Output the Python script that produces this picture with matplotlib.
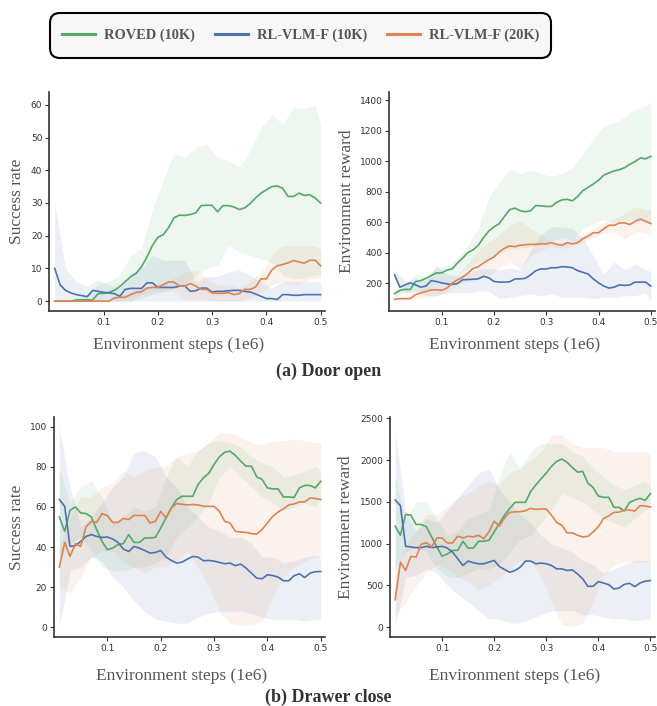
import numpy as np
import matplotlib
matplotlib.use('Agg')
import matplotlib.pyplot as plt
from matplotlib.patches import FancyBboxPatch

# x axis: environment steps (1e6)
steps = np.round(np.arange(1, 51) * 0.01, 2)
band_steps = np.append(np.round(np.arange(1, 50, 2) * 0.01, 2), 0.50)

labels = ['ROVED (10K)', 'RL-VLM-F (10K)', 'RL-VLM-F (20K)']
colors = ['#55a868', '#4c72b0', '#dd8452']

# ---- (a) Door open, success rate
door_sr_roved = [0, 0, 0, 0, 0.4, 0.4, 0.4, 0.4, 2.3, 2.4, 2.7, 3.3, 4.5, 6, 7.5, 8.5, 10.5, 13.5, 17, 19.5,
                 20.3, 22.5, 25.5, 26.3, 26.2, 26.5, 27, 29.2, 29.3, 29.3, 27.3, 29.2, 29.2, 28.8, 28, 28.5, 29.8, 31.5, 33, 34,
                 35, 35.2, 34.5, 32, 32, 33, 32.3, 32.5, 31.5, 30]
door_sr_vlm10 = [10, 5, 3.3, 2.5, 2, 1.7, 1.4, 3.3, 3, 2.7, 2.5, 2.3, 1.5, 3.6, 3.9, 3.9, 3.9, 5.6, 5.6, 4.2,
                 4.2, 4.2, 4.2, 4.6, 4.6, 3, 3.2, 4, 4, 2.8, 3, 3, 3.2, 3.3, 3.3, 3, 2.8, 2.2, 1.5, 0.8,
                 0.8, 0.5, 2, 2, 1.8, 1.8, 2, 2, 2, 2]
door_sr_vlm20 = [0, 0, 0, 0, 0, 0, 0, 0, 0, 0, 0, 1, 1.2, 1.2, 2, 2.7, 2.9, 4, 4.2, 4.2,
                 5, 5.9, 5.8, 4.6, 4.6, 5.4, 4.6, 3.6, 3.6, 2.5, 2.4, 2.4, 2.6, 2, 2.3, 3.6, 3.6, 4.3, 6.8, 6.8,
                 9.5, 10.8, 11.2, 11.7, 12.4, 12, 11.6, 12.5, 12.5, 10.8]
door_sr_roved_lo = [0, 0, 0, 0, 0, 0, 0, 0, 1, 2, 3, 4, 5, 8, 10, 11, 17, 15, 14, 13, 12, 8, 7, 7, 8, 8]
door_sr_roved_hi = [0, 0, 1, 2, 5, 6, 8, 14, 16, 28, 37, 45, 44, 47, 48, 44, 43, 41, 46, 53, 57, 54, 59, 59, 60, 54]
door_sr_vlm10_lo = [0] * 26
door_sr_vlm10_hi = [30, 10, 6, 4.5, 6.5, 5, 4, 8.5, 10, 14, 12.5, 12.5, 12.5, 6, 7.5, 7.5, 9, 9.5, 8, 6, 4, 6, 6, 6, 6, 6]
door_sr_vlm20_lo = [0, 0, 0, 0, 0, 0, 0, 0.5, 2, 3, 3, 3, 0.5, 0.5, 0.5, 0, 0, 0, 1, 3, 5, 6, 5, 6, 7, 7]
door_sr_vlm20_hi = [0, 0, 0, 0, 0, 0, 2, 2.5, 3.5, 5, 6, 7, 9, 9.5, 7, 5, 5, 4, 6, 9, 14, 17, 17, 17, 17, 15.5]

# ---- (a) Door open, environment reward
door_rw_roved = [133, 155, 161, 161, 213, 219, 234, 252, 269, 269, 288, 295, 334, 366, 402, 420, 450, 500, 543, 570,
                 592, 639, 683, 693, 676, 670, 676, 710, 708, 704, 704, 732, 747, 751, 741, 769, 808, 829, 851, 876,
                 909, 924, 937, 945, 958, 980, 999, 1021, 1016, 1032]
door_rw_vlm10 = [256, 176, 191, 204, 191, 176, 183, 219, 213, 204, 198, 194, 200, 224, 226, 228, 230, 247, 237, 213,
                 209, 209, 211, 230, 230, 234, 256, 284, 295, 295, 303, 303, 310, 308, 303, 284, 273, 262, 230, 204,
                 183, 170, 176, 191, 187, 191, 209, 209, 209, 183]
door_rw_vlm20 = [97, 101, 101, 101, 127, 138, 148, 157, 159, 155, 170, 202, 224, 241, 267, 299, 310, 334, 355, 374,
                 407, 430, 446, 441, 450, 454, 456, 456, 459, 459, 467, 456, 450, 467, 459, 467, 493, 510, 532, 532,
                 558, 581, 581, 596, 596, 586, 607, 622, 607, 592]
door_rw_roved_lo = [110, 140, 150, 160, 180, 200, 250, 300, 340, 360, 400, 420, 430, 440, 460, 480, 500, 480, 560, 590,
                    620, 600, 610, 620, 600, 600]
door_rw_roved_hi = [160, 190, 260, 250, 300, 320, 360, 450, 560, 760, 860, 950, 920, 940, 920, 900, 920, 960, 1050, 1150,
                    1230, 1250, 1290, 1340, 1360, 1390]
door_rw_vlm10_lo = [220, 140, 150, 120, 120, 140, 140, 140, 150, 150, 100, 110, 120, 130, 120, 130, 110, 110, 110, 100,
                    110, 110, 120, 120, 140, 85]
door_rw_vlm10_hi = [290, 220, 230, 220, 320, 260, 250, 270, 290, 300, 290, 300, 290, 420, 520, 570, 570, 560, 500, 380,
                    260, 340, 290, 330, 290, 280]
door_rw_vlm20_lo = [90, 90, 100, 110, 120, 140, 190, 210, 230, 250, 300, 340, 300, 380, 420, 440, 430, 440, 470, 500,
                    530, 540, 490, 540, 530, 510]
door_rw_vlm20_hi = [100, 105, 150, 170, 180, 200, 260, 330, 420, 470, 520, 580, 610, 560, 520, 470, 470, 480, 520, 560,
                    600, 620, 660, 700, 680, 680]

# ---- (b) Drawer close, success rate
drawer_sr_roved = [55, 47.8, 58.3, 60, 57, 56.7, 55, 48.7, 42.8, 38.7, 39.5, 41.2, 41.7, 46.2, 42.3, 42.3, 44.5, 44.5, 44.8, 49.5,
                   54.5, 59.5, 63.7, 65.3, 65.3, 65.3, 71.2, 74.5, 76.7, 81.2, 85, 87.3, 87.8, 85.7, 82.8, 80.3, 80.3, 75, 73.7, 69.5,
                   69, 69, 65, 65, 64.7, 69.5, 70.7, 70.7, 69.5, 72.8]
drawer_sr_vlm10 = [63.7, 60.3, 40.3, 40.7, 42.8, 45.3, 46.2, 45.3, 44.8, 45, 44, 42.3, 39, 37.8, 40.3, 39.5, 38.3, 37, 37.3, 38.3,
                   35, 33.3, 32, 32.5, 34, 35.3, 35, 33.2, 33.3, 33, 32.3, 31.7, 32, 30.7, 31.5, 29.5, 27, 24.5, 24.2, 26.2,
                   25.8, 25, 23.2, 23.2, 25.7, 26.7, 24.8, 27, 27.7, 27.8]
drawer_sr_vlm20 = [30, 42.3, 35.3, 41.7, 40.3, 50, 52.8, 52.3, 56.7, 55.7, 52.3, 52.3, 54.3, 53.7, 55.8, 55.7, 55.8, 52, 52.8, 57.8,
                   54.5, 59.5, 61.7, 61.3, 61, 61.2, 61, 60.3, 60.3, 60.3, 57.8, 52.8, 52, 47.8, 47.5, 47.3, 46.7, 46.5, 48.7, 52,
                   55.3, 57.5, 59, 61, 61.5, 62.5, 62.5, 64.5, 64.2, 63.7]
drawer_sr_roved_lo = [35, 42, 45, 38, 30, 28, 28, 30, 30, 32, 35, 45, 50, 55, 62, 75, 80, 75, 70, 65,
                      62, 58, 60, 62, 60, 65]
drawer_sr_roved_hi = [80, 62, 70, 73, 65, 52, 55, 60, 58, 60, 75, 85, 80, 88, 92, 93, 92, 90, 85, 82,
                      80, 75, 76, 78, 80, 78]
drawer_sr_vlm10_lo = [0, 28, 30, 35, 33, 25, 20, 13, 8, 4, 3, 2, 2, 5, 7, 8, 8, 8, 7, 5,
                      4, 4, 4, 3, 4, 4]
drawer_sr_vlm10_hi = [100, 70, 50, 55, 62, 70, 75, 87, 88, 85, 75, 70, 60, 55, 50, 48, 45, 45, 42, 35,
                      35, 32, 33, 35, 36, 35]
drawer_sr_vlm20_lo = [20, 17, 25, 35, 38, 38, 32, 30, 27, 30, 30, 33, 38, 30, 20, 8, 2, 1, 1, 3,
                      15, 25, 30, 33, 35, 35]
drawer_sr_vlm20_hi = [40, 55, 65, 65, 70, 72, 78, 75, 78, 80, 80, 85, 87, 88, 92, 97, 97, 95, 92, 91,
                      93, 93, 94, 93, 92, 92]

# ---- (b) Drawer close, environment reward
drawer_rw_roved = [1210, 1101, 1350, 1342, 1230, 1230, 1202, 1081, 960, 852, 876, 920, 920, 1029, 948, 948, 1029, 1029, 1041, 1141,
                   1242, 1342, 1423, 1495, 1495, 1495, 1624, 1704, 1776, 1845, 1925, 1985, 2013, 1973, 1913, 1857, 1865, 1724, 1672, 1571,
                   1555, 1555, 1435, 1435, 1391, 1495, 1523, 1543, 1519, 1600]
drawer_rw_vlm10 = [1523, 1455, 969, 961, 953, 953, 969, 953, 961, 969, 948, 900, 820, 740, 792, 772, 760, 760, 780, 800,
                   727, 691, 659, 679, 719, 792, 792, 760, 768, 760, 740, 699, 699, 679, 687, 639, 579, 490, 490, 547,
                   530, 510, 458, 470, 514, 526, 486, 530, 551, 559]
drawer_rw_vlm20 = [330, 780, 679, 848, 840, 993, 1013, 961, 1069, 1069, 1009, 1009, 1089, 1069, 1089, 1081, 1101, 1061, 1141, 1270,
                   1210, 1310, 1375, 1383, 1383, 1395, 1423, 1411, 1415, 1415, 1342, 1254, 1222, 1129, 1129, 1101, 1081, 1089, 1141, 1202,
                   1302, 1334, 1375, 1379, 1403, 1403, 1391, 1455, 1451, 1439]
drawer_rw_roved_lo = [700, 900, 950, 900, 700, 600, 600, 650, 700, 700, 750, 900, 1050, 1100, 1250, 1400, 1600, 1550, 1500, 1400,
                      1300, 1250, 1200, 1300, 1400, 1450]
drawer_rw_roved_hi = [1800, 1300, 1500, 1500, 1300, 1100, 1150, 1300, 1350, 1400, 1800, 2100, 1900, 2100, 2200, 2200, 2200, 2100, 2050, 1900,
                      1800, 1700, 1650, 1700, 1750, 1700]
drawer_rw_vlm10_lo = [0, 600, 620, 700, 650, 500, 400, 300, 200, 100, 100, 50, 50, 100, 150, 200, 200, 200, 150, 150,
                      120, 100, 100, 80, 100, 100]
drawer_rw_vlm10_hi = [2350, 1400, 1150, 1300, 1250, 1400, 1550, 1700, 1850, 1900, 1650, 1500, 1350, 1250, 1100, 1000, 950, 900, 800, 750,
                      650, 700, 750, 800, 800, 790]
drawer_rw_vlm20_lo = [150, 300, 500, 650, 750, 700, 600, 550, 450, 500, 600, 700, 800, 800, 600, 300, 30, 10, 50, 300,
                      600, 750, 780, 780, 780, 780]
drawer_rw_vlm20_hi = [600, 1000, 1150, 1350, 1350, 1450, 1550, 1600, 1700, 1750, 1700, 1850, 1900, 2000, 2100, 2300, 2300, 2200, 2150, 2150,
                      2150, 2100, 2100, 2100, 2100, 2080]

panels = [
    dict(pos=[0.075, 0.5595, 0.4196, 0.3106], ylabel='Success rate', ylim=(-3, 64), yticks=np.arange(0, 61, 10),
         lab_x=-0.088, xlab_y=-0.118,
         means=[door_sr_roved, door_sr_vlm10, door_sr_vlm20],
         lo=[door_sr_roved_lo, door_sr_vlm10_lo, door_sr_vlm20_lo],
         hi=[door_sr_roved_hi, door_sr_vlm10_hi, door_sr_vlm20_hi]),
    dict(pos=[0.5927, 0.5595, 0.4043, 0.3106], ylabel='Environment reward', ylim=(20, 1455), yticks=np.arange(200, 1401, 200),
         lab_x=-0.13, xlab_y=-0.118,
         means=[door_rw_roved, door_rw_vlm10, door_rw_vlm20],
         lo=[door_rw_roved_lo, door_rw_vlm10_lo, door_rw_vlm20_lo],
         hi=[door_rw_roved_hi, door_rw_vlm10_hi, door_rw_vlm20_hi]),
    dict(pos=[0.0822, 0.0973, 0.4125, 0.3125], ylabel='Success rate', ylim=(-5, 105), yticks=np.arange(0, 101, 20),
         lab_x=-0.107, xlab_y=-0.14,
         means=[drawer_sr_roved, drawer_sr_vlm10, drawer_sr_vlm20],
         lo=[drawer_sr_roved_lo, drawer_sr_vlm10_lo, drawer_sr_vlm20_lo],
         hi=[drawer_sr_roved_hi, drawer_sr_vlm10_hi, drawer_sr_vlm20_hi]),
    dict(pos=[0.5936, 0.0973, 0.4027, 0.3125], ylabel='Environment reward', ylim=(-120, 2520), yticks=np.arange(0, 2501, 500),
         lab_x=-0.136, xlab_y=-0.14,
         means=[drawer_rw_roved, drawer_rw_vlm10, drawer_rw_vlm20],
         lo=[drawer_rw_roved_lo, drawer_rw_vlm10_lo, drawer_rw_vlm20_lo],
         hi=[drawer_rw_roved_hi, drawer_rw_vlm10_hi, drawer_rw_vlm20_hi]),
]

serif = ['Liberation Serif', 'DejaVu Serif']
W, H = 657, 706

fig = plt.figure(figsize=(6.57, 7.06), dpi=100)

for p in panels:
    ax = fig.add_axes(p['pos'])
    for k in range(3):
        ax.fill_between(band_steps, p['lo'][k], p['hi'][k], color=colors[k], alpha=0.1, linewidth=0)
    for k in range(3):
        ax.plot(steps, p['means'][k], color=colors[k], linewidth=1.2, label=labels[k])
    ax.set_xlim(0.0, 0.508)
    ax.set_ylim(*p['ylim'])
    ax.set_xticks([0.1, 0.2, 0.3, 0.4, 0.5])
    ax.set_xticklabels(['0.1', '0.2', '0.3', '0.4', '0.5'])
    ax.set_yticks(p['yticks'])
    ax.tick_params(labelsize=6.5, colors='#333333', length=3, width=0.8, pad=2)
    for s in ['top', 'right']:
        ax.spines[s].set_visible(False)
    for s in ['left', 'bottom']:
        ax.spines[s].set_color('#333333')
        ax.spines[s].set_linewidth(1.2)
    ax.set_ylabel(p['ylabel'], family=serif, fontsize=12.5, color='#555555')
    ax.yaxis.set_label_coords(p['lab_x'], 0.5)
    ax.set_xlabel('Environment steps (1e6)', family=serif, fontsize=12.5, color='#555555')
    ax.xaxis.set_label_coords(0.47, p['xlab_y'])

fig.text(0.5, 1 - 371 / H, '(a) Door open', family=serif, fontsize=13, fontweight='bold',
         color='#333333', ha='center', va='center')
fig.text(0.5, 1 - 697 / H, '(b) Drawer close', family=serif, fontsize=13, fontweight='bold',
         color='#333333', ha='center', va='center')

# rounded box drawn by hand, legend sits inside it
box = FancyBboxPatch((50 / W, 1 - 58 / H), 501 / W, 45 / H, transform=fig.transFigure,
                     boxstyle='round,pad=0,rounding_size=0.015', facecolor='#f7f7f7',
                     edgecolor='black', linewidth=1.5, mutation_aspect=W / H)
fig.patches.append(box)

leg_handles = [plt.Line2D([], [], color=c, linewidth=2.2) for c in colors]
leg = fig.legend(leg_handles, labels, loc='center', bbox_to_anchor=(300.5 / W, 1 - 35.5 / H),
                 ncol=3, frameon=False, handlelength=2.3, handletextpad=0.6, columnspacing=1.4,
                 borderpad=0.2, prop=dict(family=serif, weight='bold', size=10.4))
for t in leg.get_texts():
    t.set_color('#555555')

fig.savefig('out.png', dpi=100)
